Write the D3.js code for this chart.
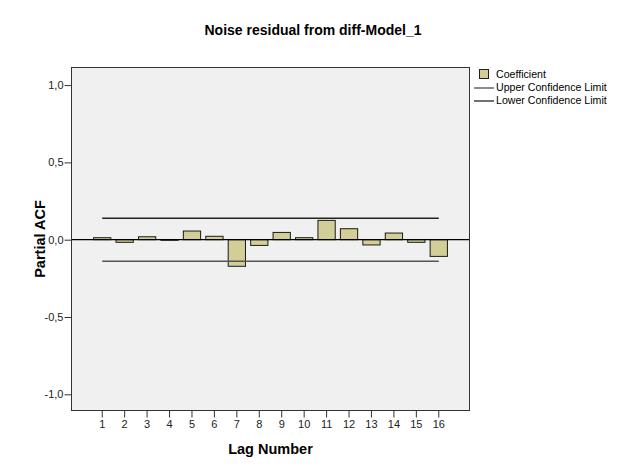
<!DOCTYPE html>
<html>
<head>
<meta charset="utf-8">
<script src="https://cdn.jsdelivr.net/npm/d3@7"></script>
<style>
  html, body { margin: 0; padding: 0; background: #ffffff; }
  svg { display: block; font-family: "Liberation Sans", Arial, sans-serif; }
</style>
</head>
<body>
<svg id="chart" width="626" height="472"></svg>
<script>
// ---- data ----
const lags = [1, 2, 3, 4, 5, 6, 7, 8, 9, 10, 11, 12, 13, 14, 15, 16];
const coefficient = [0.013, -0.017, 0.019, -0.004, 0.056, 0.022, -0.172, -0.037, 0.047, 0.013, 0.125, 0.071, -0.034, 0.043, -0.017, -0.108];
const upperLimit = [0.139, 0.139, 0.139, 0.139, 0.139, 0.139, 0.139, 0.139, 0.139, 0.139, 0.139, 0.139, 0.139, 0.139, 0.139, 0.139];
const lowerLimit = [-0.139, -0.139, -0.139, -0.139, -0.139, -0.139, -0.139, -0.139, -0.139, -0.139, -0.139, -0.139, -0.139, -0.139, -0.139, -0.139];
const yTicks = [-1.0, -0.5, 0.0, 0.5, 1.0];
const legendLabels = ["Coefficient", "Upper Confidence Limit", "Lower Confidence Limit"];
const titleText = "Noise residual from diff-Model_1";
const xTitle = "Lag Number";
const yTitle = "Partial ACF";

// ---- layout ----
const svg = d3.select("#chart");
const plot = { left: 71, right: 470, top: 67, bottom: 411 };

const x = d3.scaleBand()
  .domain(lags)
  .range([plot.left + 20, plot.right - 20])
  .paddingInner(0.23)
  .paddingOuter(0.115);

const y = d3.scaleLinear()
  .domain([-1.108, 1.117])
  .range([plot.bottom, plot.top]);

const fmt = d => d3.format(".1f")(d).replace(".", ",").replace("−", "-");

// plot background
svg.append("rect")
  .attr("x", plot.left).attr("y", plot.top)
  .attr("width", plot.right - plot.left).attr("height", plot.bottom - plot.top)
  .attr("fill", "#f0f0f0");

// bars
svg.append("g").selectAll("rect")
  .data(lags.map((l, i) => ({ lag: l, v: coefficient[i] })))
  .join("rect")
  .attr("x", d => x(d.lag))
  .attr("width", x.bandwidth())
  .attr("y", d => y(Math.max(0, d.v)))
  .attr("height", d => Math.max(0.5, Math.abs(y(d.v) - y(0))))
  .attr("fill", "#d3ce98")
  .attr("stroke", "#1a1a1a")
  .attr("stroke-width", 1);

// zero line
svg.append("line")
  .attr("x1", plot.left).attr("x2", plot.right)
  .attr("y1", y(0)).attr("y2", y(0))
  .attr("stroke", "#000").attr("stroke-width", 1.2);

// confidence limits
const cx = l => x(l) + x.bandwidth() / 2;
const lineGen = arr => d3.line().x((d, i) => cx(lags[i])).y(d => y(d))(arr);
svg.append("path").attr("d", lineGen(upperLimit))
  .attr("fill", "none").attr("stroke", "#222").attr("stroke-width", 1.4);
svg.append("path").attr("d", lineGen(lowerLimit))
  .attr("fill", "none").attr("stroke", "#555").attr("stroke-width", 1.6);

// frame
svg.append("rect")
  .attr("x", plot.left + 0.5).attr("y", plot.top + 0.5)
  .attr("width", plot.right - plot.left - 1).attr("height", plot.bottom - plot.top - 1)
  .attr("fill", "none").attr("stroke", "#333").attr("stroke-width", 1);

// y axis
const yAxis = d3.axisLeft(y).tickValues(yTicks).tickFormat(fmt).tickSize(7).tickPadding(1);
const gy = svg.append("g").attr("transform", `translate(${plot.left + 0.5},0)`).call(yAxis);
gy.select(".domain").remove();
gy.selectAll(".tick line").attr("stroke", "#333");
gy.selectAll(".tick text").attr("font-size", 11).attr("fill", "#222")
  .attr("font-family", "'Liberation Sans', Arial, sans-serif");

// x axis
const xAxis = d3.axisBottom(x).tickSize(7).tickPadding(3);
const gx = svg.append("g").attr("transform", `translate(0,${plot.bottom - 0.5})`).call(xAxis);
gx.select(".domain").remove();
gx.selectAll(".tick line").attr("stroke", "#333");
gx.selectAll(".tick text").attr("font-size", 11).attr("fill", "#222")
  .attr("font-family", "'Liberation Sans', Arial, sans-serif");

// titles
svg.append("text").attr("x", 313).attr("y", 35).attr("text-anchor", "middle")
  .attr("font-size", 14).attr("font-weight", "bold").attr("fill", "#000").text(titleText);
svg.append("text").attr("x", (plot.left + plot.right) / 2).attr("y", 454).attr("text-anchor", "middle")
  .attr("font-size", 14.5).attr("font-weight", "bold").attr("fill", "#000").text(xTitle);
svg.append("text").attr("transform", "translate(45,239) rotate(-90)").attr("text-anchor", "middle")
  .attr("font-size", 14.5).attr("font-weight", "bold").attr("fill", "#000").text(yTitle);

// legend
const lg = svg.append("g").attr("font-size", 10.6).attr("fill", "#000");
lg.append("rect").attr("x", 479.5).attr("y", 69.5).attr("width", 9).attr("height", 9)
  .attr("fill", "#d3ce98").attr("stroke", "#222");
lg.append("line").attr("x1", 474).attr("x2", 494).attr("y1", 88).attr("y2", 88)
  .attr("stroke", "#666").attr("stroke-width", 1.5);
lg.append("line").attr("x1", 474).attr("x2", 494).attr("y1", 101).attr("y2", 101)
  .attr("stroke", "#111").attr("stroke-width", 1.2);
legendLabels.forEach((t, i) => {
  lg.append("text").attr("x", 496).attr("y", 78 + i * 13).text(t);
});
</script>
</body>
</html>
